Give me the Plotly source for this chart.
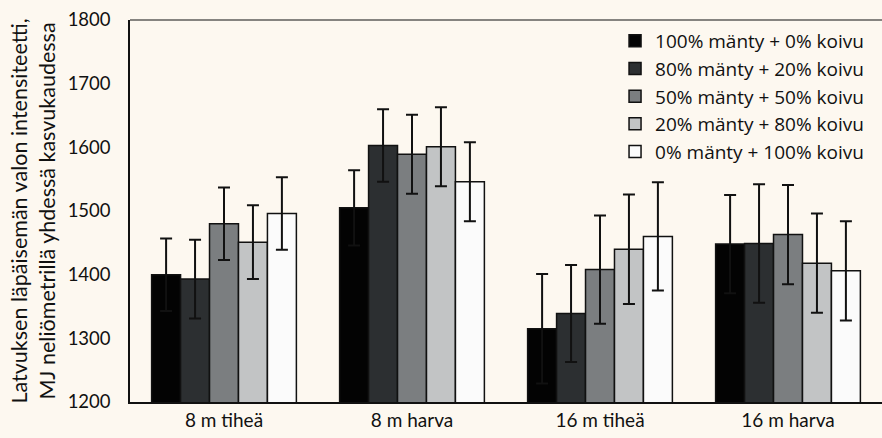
import plotly.graph_objects as go

categories = ["8 m tiheä", "8 m harva", "16 m tiheä", "16 m harva"]
series_names = [
    "100% mänty + 0% koivu",
    "80% mänty + 20% koivu",
    "50% mänty + 50% koivu",
    "20% mänty + 80% koivu",
    "0% mänty + 100% koivu",
]
values_100_0 = [1400, 1505, 1315, 1448]
values_80_20 = [1393, 1603, 1339, 1449]
values_50_50 = [1480, 1589, 1408, 1463]
values_20_80 = [1451, 1601, 1440, 1418]
values_0_100 = [1496, 1546, 1460, 1406]
errors_100_0 = [57, 59, 86, 77]
errors_80_20 = [62, 57, 76, 93]
errors_50_50 = [57, 62, 85, 78]
errors_20_80 = [58, 62, 86, 78]
errors_0_100 = [57, 62, 85, 78]

series_values = [values_100_0, values_80_20, values_50_50, values_20_80, values_0_100]
series_errors = [errors_100_0, errors_80_20, errors_50_50, errors_20_80, errors_0_100]
colors = ["#030303", "#2c2f31", "#7b7e80", "#c2c4c5", "#fbfbfb"]

FONT = "Lato"
BG = "#fdf8f0"

fig = go.Figure()
for name, vals, errs, col in zip(series_names, series_values, series_errors, colors):
    fig.add_trace(go.Bar(
        name=name, x=categories, y=vals,
        marker=dict(color=col, line=dict(color="#111111", width=1.5)),
        error_y=dict(type="data", array=errs, visible=True,
                     color="#111111", thickness=2, width=6),
    ))

fig.update_layout(
    width=882, height=438,
    margin=dict(l=130, r=0, t=20, b=36),
    paper_bgcolor=BG, plot_bgcolor=BG,
    barmode="group", bargap=0.23, bargroupgap=0,
    font=dict(family=FONT, color="#111111", size=18),
    showlegend=True,
    legend=dict(x=0.645, y=0.995, xanchor="left", yanchor="top",
                bgcolor="rgba(0,0,0,0)", font=dict(size=19, family="Open Sans"),
                tracegroupgap=0, itemwidth=30),
    xaxis=dict(showline=True, linecolor="#111111", linewidth=2, mirror=False,
               ticks="", tickfont=dict(size=19, family=FONT), showgrid=False),
    yaxis=dict(range=[1200, 1800], dtick=100, showline=True, linecolor="#111111",
               linewidth=1.5, ticks="", showgrid=False, zeroline=False,
               ticklabelstandoff=14,
               tickfont=dict(size=18.5, family=FONT),
               title=dict(text="Latvuksen läpäisemän valon intensiteetti,<br>MJ neliömetrillä yhdessä kasvukaudessa",
                          font=dict(size=21.5, family=FONT), standoff=6)),
    shapes=[dict(type="line", xref="paper", yref="paper", x0=0, x1=1, y0=1, y1=1,
                 line=dict(color="#111111", width=1.2))],
)

fig.write_html(
    "out.html",
    config={"displayModeBar": False},
    post_script="document.body.style.margin='0';document.body.style.background='" + BG + "';",
)
